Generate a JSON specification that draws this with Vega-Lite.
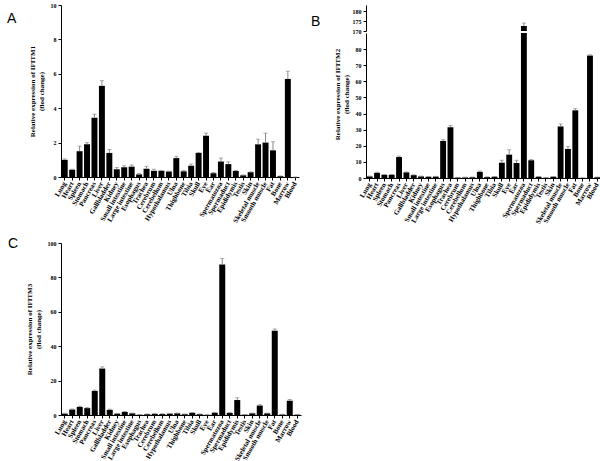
{
  "$schema": "https://vega.github.io/schema/vega-lite/v6.json",
  "padding": {"left": 7, "top": 2, "right": 0, "bottom": 0},
  "background": "white",
  "config": {
    "view": {"stroke": null},
    "font": "Liberation Serif",
    "axis": {"grid": false, "domainColor": "black", "tickColor": "black", "labelColor": "black", "titleColor": "black", "labelFont": "Liberation Serif", "titleFont": "Liberation Serif", "labelFontWeight": "bold", "titleFontWeight": "bold", "labelOverlap": false},
    "axisQuantitative": {"labelOverlap": false},
    "axisY": {"labelOverlap": false},
    "title": {"font": "Liberation Sans", "fontWeight": "normal", "fontSize": 14, "color": "black", "anchor": "start", "frame": "bounds"}
  },
  "datasets": {
    "d": [
      {"tissue": "Lung", "a": 1.0, "a_hi": 1.05, "b": 1.0, "b_hi": 1.2, "c": 0.8, "c_hi": 1.0},
      {"tissue": "Heart", "a": 0.42, "a_hi": 0.45, "b": 3.2, "b_hi": 3.6, "c": 3.2, "c_hi": 3.5},
      {"tissue": "Spleen", "a": 1.5, "a_hi": 1.8, "b": 2.0, "b_hi": 2.2, "c": 4.7, "c_hi": 5.1},
      {"tissue": "Stomach", "a": 1.9, "a_hi": 2.0, "b": 2.0, "b_hi": 2.2, "c": 4.0, "c_hi": 4.3},
      {"tissue": "Pancreas", "a": 3.45, "a_hi": 3.65, "b": 13, "b_hi": 13.6, "c": 14, "c_hi": 14.5},
      {"tissue": "Liver", "a": 5.3, "a_hi": 5.6, "b": 3.5, "b_hi": 3.8, "c": 27, "c_hi": 28},
      {"tissue": "Gallbladder", "a": 1.4, "a_hi": 1.6, "b": 1.8, "b_hi": 2.0, "c": 3.0, "c_hi": 3.4},
      {"tissue": "Kidney", "a": 0.45, "a_hi": 0.55, "b": 1.0, "b_hi": 1.2, "c": 0.8, "c_hi": 0.9},
      {"tissue": "Small intestine", "a": 0.57, "a_hi": 0.65, "b": 0.8, "b_hi": 0.9, "c": 1.8, "c_hi": 2.0},
      {"tissue": "Large intestine", "a": 0.6, "a_hi": 0.7, "b": 0.9, "b_hi": 1.0, "c": 1.0, "c_hi": 1.1},
      {"tissue": "Esophagus", "a": 0.15, "a_hi": 0.2, "b": 23, "b_hi": 23.8, "c": 0.2, "c_hi": 0.3},
      {"tissue": "Trachea", "a": 0.48, "a_hi": 0.62, "b": 31.5, "b_hi": 32.5, "c": 0.5, "c_hi": 0.6},
      {"tissue": "Cerebrum", "a": 0.36, "a_hi": 0.45, "b": 0.3, "b_hi": 0.4, "c": 0.7, "c_hi": 0.8},
      {"tissue": "Cerebellum", "a": 0.36, "a_hi": 0.38, "b": 0.4, "b_hi": 0.5, "c": 0.6, "c_hi": 0.7},
      {"tissue": "Hypothalamus", "a": 0.32, "a_hi": 0.34, "b": 0.5, "b_hi": 0.6, "c": 0.8, "c_hi": 0.9},
      {"tissue": "Ulna", "a": 1.1, "a_hi": 1.2, "b": 3.8, "b_hi": 4.3, "c": 1.0, "c_hi": 1.1},
      {"tissue": "Thighbone", "a": 0.33, "a_hi": 0.38, "b": 0.6, "b_hi": 0.7, "c": 0.5, "c_hi": 0.6},
      {"tissue": "Tibia", "a": 0.66, "a_hi": 0.75, "b": 0.8, "b_hi": 0.9, "c": 1.3, "c_hi": 1.4},
      {"tissue": "Skull", "a": 1.4, "a_hi": 1.42, "b": 9.5, "b_hi": 11, "c": 0.5, "c_hi": 0.6},
      {"tissue": "Eye", "a": 2.4, "a_hi": 2.55, "b": 14.5, "b_hi": 17.5, "c": 0.1, "c_hi": 0.2},
      {"tissue": "Ear", "a": 0.22, "a_hi": 0.26, "b": 9.3, "b_hi": 11, "c": 1.3, "c_hi": 1.5},
      {"tissue": "Spermatozoa", "a": 0.9, "a_hi": 1.1, "b": 172.5, "b_hi": 174, "c": 87.5, "c_hi": 91},
      {"tissue": "Spermaduct", "a": 0.75, "a_hi": 0.88, "b": 11, "b_hi": 11.5, "c": 1.2, "c_hi": 1.4},
      {"tissue": "Epididymis", "a": 0.35, "a_hi": 0.38, "b": 0.8, "b_hi": 0.9, "c": 8.7, "c_hi": 10},
      {"tissue": "Testis", "a": 0.1, "a_hi": 0.12, "b": 0.2, "b_hi": 0.3, "c": 0.2, "c_hi": 0.3},
      {"tissue": "Skin", "a": 0.28, "a_hi": 0.3, "b": 0.8, "b_hi": 0.9, "c": 1.0, "c_hi": 1.1},
      {"tissue": "Skeletal muscle", "a": 1.9, "a_hi": 2.2, "b": 32, "b_hi": 33.5, "c": 5.5, "c_hi": 6},
      {"tissue": "Smooth muscle", "a": 2.0, "a_hi": 2.55, "b": 18, "b_hi": 19.5, "c": 1.0, "c_hi": 1.1},
      {"tissue": "Fat", "a": 1.55, "a_hi": 2.05, "b": 42, "b_hi": 43, "c": 49, "c_hi": 50},
      {"tissue": "Bone", "a": 0.05, "a_hi": 0.06, "b": 0.1, "b_hi": 0.1, "c": 0.3, "c_hi": 0.4},
      {"tissue": "Marrow", "a": 5.7, "a_hi": 6.15, "b": 76, "b_hi": 76.5, "c": 8.3, "c_hi": 9},
      {"tissue": "Blood", "a": 0, "a_hi": 0, "b": 0.5, "b_hi": 0.6, "c": 0.2, "c_hi": 0.3}
    ]
  },
  "spacing": 12,
  "vconcat": [
    {
      "bounds": "flush",
      "spacing": 67,
      "hconcat": [
        {
          "title": {"text": "A", "dx": -21, "offset": -24},
          "width": 238,
          "height": 172,
          "data": {"name": "d"},
          "encoding": {
            "x": {"field": "tissue", "type": "nominal", "sort": null, "title": null,
              "scale": {"paddingInner": 0.2, "paddingOuter": 0.1},
              "axis": {"labelAngle": -60, "labelAlign": "right", "labelBaseline": "middle", "labelFontSize": 7, "tickSize": 3, "labelPadding": 2, "labelLimit": 100}}
          },
          "layer": [
            {"mark": {"type": "bar", "color": "black"},
              "encoding": {"y": {"field": "a", "type": "quantitative", "scale": {"domain": [0, 10]},
                "axis": {"values": [0, 2, 4, 6, 8, 10], "labelOverlap": false, "labelFontSize": 6, "tickSize": 3, "titleFontSize": 7, "titlePadding": 6,
                  "title": ["Relative  expression of IFITM1", "(flod change)"]}}}},
            {"mark": {"type": "rule", "color": "#888", "strokeWidth": 1},
              "encoding": {"y": {"field": "a", "type": "quantitative",
                "axis": {"values": [0, 2, 4, 6, 8, 10], "labelOverlap": false, "labelFontSize": 6, "tickSize": 3, "titleFontSize": 7, "titlePadding": 6,
                  "title": ["Relative  expression of IFITM1", "(flod change)"]}}, "y2": {"field": "a_hi"}}},
            {"mark": {"type": "tick", "color": "#888", "size": 4, "thickness": 1},
              "encoding": {"y": {"field": "a_hi", "type": "quantitative",
                "axis": {"values": [0, 2, 4, 6, 8, 10], "labelOverlap": false, "labelFontSize": 6, "tickSize": 3, "titleFontSize": 7, "titlePadding": 6,
                  "title": ["Relative  expression of IFITM1", "(flod change)"]}}}}
          ]
        },
        {
          "title": {"text": "B", "dx": -22, "offset": -24},
          "bounds": "flush",
          "spacing": 2,
          "vconcat": [
            {
              "width": 235,
              "height": 26,
              "data": {"name": "d"},
              "encoding": {
                "x": {"field": "tissue", "type": "nominal", "sort": null, "axis": null,
                  "scale": {"paddingInner": 0.2, "paddingOuter": 0.1}}
              },
              "layer": [
                {"mark": {"type": "bar", "color": "black", "clip": true},
                  "encoding": {"y": {"field": "b", "type": "quantitative", "scale": {"domain": [170, 183], "zero": false},
                    "axis": {"values": [170, 175, 180], "labelOverlap": false, "labelFontSize": 6, "tickSize": 3, "title": null}}}},
                {"mark": {"type": "rule", "color": "#888", "strokeWidth": 1, "clip": true},
                  "encoding": {"y": {"field": "b", "type": "quantitative",
                    "axis": {"values": [170, 175, 180], "labelOverlap": false, "labelFontSize": 6, "tickSize": 3, "title": null}}, "y2": {"field": "b_hi"}}},
                {"mark": {"type": "tick", "color": "#888", "size": 4, "thickness": 1, "clip": true},
                  "encoding": {"y": {"field": "b_hi", "type": "quantitative",
                    "axis": {"values": [170, 175, 180], "labelOverlap": false, "labelFontSize": 6, "tickSize": 3, "title": null}}}}
              ]
            },
            {
              "width": 235,
              "height": 145,
              "data": {"name": "d"},
              "encoding": {
                "x": {"field": "tissue", "type": "nominal", "sort": null, "title": null,
                  "scale": {"paddingInner": 0.2, "paddingOuter": 0.1},
                  "axis": {"labelAngle": -60, "labelAlign": "right", "labelBaseline": "middle", "labelFontSize": 7, "tickSize": 3, "labelPadding": 2, "labelLimit": 100}}
              },
              "layer": [
                {"mark": {"type": "bar", "color": "black", "clip": true},
                  "encoding": {"y": {"field": "b", "type": "quantitative", "scale": {"domain": [0, 84.3]},
                    "axis": {"values": [0, 10, 20, 30, 40, 50, 60, 70, 80], "labelOverlap": false, "labelFontSize": 6, "tickSize": 3, "titleFontSize": 7, "titlePadding": 6, "titleY": 61,
                      "title": ["Relative  expression of IFITM2", "(flod change)"]}}}},
                {"mark": {"type": "rule", "color": "#888", "strokeWidth": 1, "clip": true},
                  "encoding": {"y": {"field": "b", "type": "quantitative",
                    "axis": {"values": [0, 10, 20, 30, 40, 50, 60, 70, 80], "labelOverlap": false, "labelFontSize": 6, "tickSize": 3, "titleFontSize": 7, "titlePadding": 6, "titleY": 61,
                      "title": ["Relative  expression of IFITM2", "(flod change)"]}}, "y2": {"field": "b_hi"}}},
                {"mark": {"type": "tick", "color": "#888", "size": 4, "thickness": 1, "clip": true},
                  "encoding": {"y": {"field": "b_hi", "type": "quantitative",
                    "axis": {"values": [0, 10, 20, 30, 40, 50, 60, 70, 80], "labelOverlap": false, "labelFontSize": 6, "tickSize": 3, "titleFontSize": 7, "titlePadding": 6, "titleY": 61,
                      "title": ["Relative  expression of IFITM2", "(flod change)"]}}}}
              ]
            }
          ]
        }
      ]
    },
    {
      "title": {"text": "C", "dx": -17, "offset": -11},
      "width": 240,
      "height": 172,
      "data": {"name": "d"},
      "encoding": {
        "x": {"field": "tissue", "type": "nominal", "sort": null, "title": null,
          "scale": {"paddingInner": 0.2, "paddingOuter": 0.1},
          "axis": {"labelAngle": -60, "labelAlign": "right", "labelBaseline": "middle", "labelFontSize": 7, "tickSize": 3, "labelPadding": 2, "labelLimit": 100}}
      },
      "layer": [
        {"mark": {"type": "bar", "color": "black"},
          "encoding": {"y": {"field": "c", "type": "quantitative", "scale": {"domain": [0, 100]},
            "axis": {"values": [0, 20, 40, 60, 80, 100], "labelOverlap": false, "labelFontSize": 6, "tickSize": 3, "titleFontSize": 7, "titlePadding": 6,
              "title": ["Relative  expression of IFITM3", "(flod change)"]}}}},
        {"mark": {"type": "rule", "color": "#888", "strokeWidth": 1},
          "encoding": {"y": {"field": "c", "type": "quantitative",
            "axis": {"values": [0, 20, 40, 60, 80, 100], "labelOverlap": false, "labelFontSize": 6, "tickSize": 3, "titleFontSize": 7, "titlePadding": 6,
              "title": ["Relative  expression of IFITM3", "(flod change)"]}}, "y2": {"field": "c_hi"}}},
        {"mark": {"type": "tick", "color": "#888", "size": 4, "thickness": 1},
          "encoding": {"y": {"field": "c_hi", "type": "quantitative",
            "axis": {"values": [0, 20, 40, 60, 80, 100], "labelOverlap": false, "labelFontSize": 6, "tickSize": 3, "titleFontSize": 7, "titlePadding": 6,
              "title": ["Relative  expression of IFITM3", "(flod change)"]}}}}
      ]
    }
  ]
}
